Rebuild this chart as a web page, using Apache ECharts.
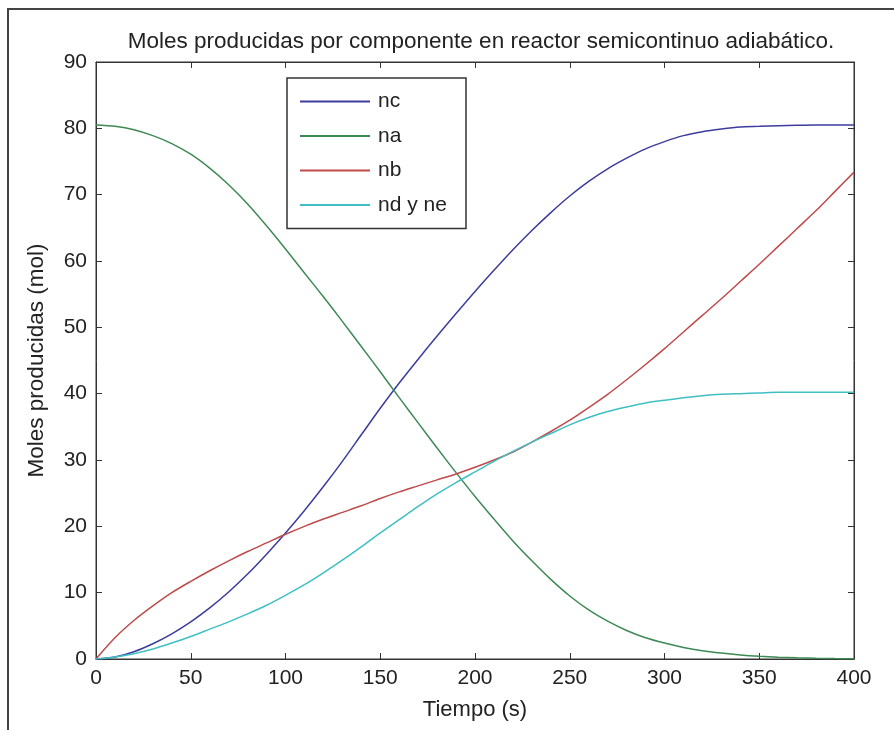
<!DOCTYPE html>
<html>
<head>
<meta charset="utf-8">
<title>Moles producidas por componente</title>
<script src="https://cdn.jsdelivr.net/npm/echarts@6/dist/echarts.min.js"></script>
<style>
  html, body { margin: 0; padding: 0; background: #ffffff; }
  #chart { width: 894px; height: 730px; }
</style>
</head>
<body>
<div id="chart"></div>
<script>
// Tiempo (s), muestreado cada 10 s
const tiempo = [0, 10, 20, 30, 40, 50, 60, 70, 80, 90,
                100, 110, 120, 130, 140, 150, 160, 170, 180, 190,
                200, 210, 220, 230, 240, 250, 260, 270, 280, 290,
                300, 310, 320, 330, 340, 350, 360, 370, 380, 390, 400];

// Moles de cada componente (mol)
const nc = [0, 0.3, 1.1, 2.3, 3.8, 5.6, 7.7, 10.1, 12.8, 15.8,
            19, 22.4, 26, 29.8, 33.8, 37.8, 41.6, 45.2, 48.7, 52.1,
            55.4, 58.6, 61.7, 64.6, 67.3, 69.8, 72, 73.9, 75.5, 76.9,
            78, 78.9, 79.5, 79.9, 80.2, 80.3, 80.4, 80.45, 80.5, 80.5, 80.5];

const na = [80.5, 80.3, 79.8, 78.9, 77.7, 76.1, 74, 71.5, 68.6, 65.3,
            61.8, 58.2, 54.6, 50.9, 47.1, 43.3, 39.4, 35.6, 31.8, 28.1,
            24.5, 21.1, 17.8, 14.8, 12, 9.5, 7.4, 5.7, 4.3, 3.2,
            2.4, 1.75, 1.25, 0.9, 0.62, 0.42, 0.28, 0.18, 0.11, 0.07, 0.04];

const nb = [0, 3.2, 5.8, 8, 10, 11.7, 13.3, 14.8, 16.2, 17.5,
            18.8, 20, 21.1, 22.1, 23.1, 24.2, 25.2, 26.1, 27, 27.9,
            28.9, 30, 31.2, 32.7, 34.3, 36, 37.9, 39.9, 42.1, 44.4,
            46.8, 49.3, 51.8, 54.3, 56.9, 59.5, 62.2, 64.9, 67.6, 70.5, 73.4];

const ndne = [0, 0.3, 0.8, 1.5, 2.4, 3.4, 4.5, 5.6, 6.8, 8.1,
              9.6, 11.2, 13, 14.9, 16.9, 19, 21, 23, 24.9, 26.6,
              28.2, 29.8, 31.3, 32.7, 34, 35.3, 36.4, 37.3, 38, 38.6,
              39, 39.4, 39.7, 39.9, 40, 40.1, 40.2, 40.2, 40.2, 40.2, 40.2];

const nombres = ['nc', 'na', 'nb', 'nd y ne'];
const colores = ['#3c3c9e', '#3d8a55', '#bf4a4a', '#3fbfc4'];

const FONT = '"Liberation Sans", Arial, sans-serif';
const AXIS = '#333333';

function pares(ys) { return tiempo.map((t, i) => [t, ys[i]]); }

const chart = echarts.init(document.getElementById('chart'), null, { renderer: 'canvas' });

const ejeX = {
  type: 'value', min: 0, max: 400, interval: 50,
  axisLine: { show: true, onZero: false, lineStyle: { color: AXIS, width: 1 } },
  axisTick: { show: true, inside: true, length: 6, lineStyle: { color: AXIS } },
  splitLine: { show: false }
};
const ejeY = {
  type: 'value', min: 0, max: 90, interval: 10,
  axisLine: { show: true, onZero: false, lineStyle: { color: AXIS, width: 1 } },
  axisTick: { show: true, inside: true, length: 6, lineStyle: { color: AXIS } },
  splitLine: { show: false }
};

chart.setOption({
  animation: false,
  backgroundColor: '#ffffff',
  textStyle: { fontFamily: FONT },
  title: {
    text: 'Moles producidas por componente en reactor semicontinuo adiabático.',
    left: 476, top: 25, textAlign: 'center',
    textStyle: { fontFamily: FONT, fontSize: 22.5, fontWeight: 'normal', color: '#222' }
  },
  graphic: [{
    type: 'rect', silent: true, z: -1,
    shape: { x: 8, y: 9, width: 1000, height: 1000 },
    style: { fill: 'none', stroke: '#444', lineWidth: 2 }
  }],
  grid: {
    left: 96, right: 40, top: 62, bottom: 71,
    show: true, borderColor: AXIS, borderWidth: 1, backgroundColor: '#fff'
  },
  legend: {
    data: nombres,
    orient: 'vertical',
    left: 287, top: 78,
    padding: [13, 8, 13, 13],
    itemGap: 13.5,
    itemWidth: 70, itemHeight: 2,
    icon: 'rect',
    backgroundColor: '#fff',
    borderColor: '#333', borderWidth: 1.5,
    textStyle: { fontFamily: FONT, fontSize: 21, color: '#222', lineHeight: 18, width: 80, padding: [0, 0, 0, 3] }
  },
  xAxis: [
    Object.assign({}, ejeX, {
      position: 'bottom',
      name: 'Tiempo (s)', nameLocation: 'middle', nameGap: 40,
      nameTextStyle: { fontFamily: FONT, fontSize: 22, color: '#222' },
      axisLabel: { show: true, margin: 9, fontFamily: FONT, fontSize: 21, color: '#222' }
    }),
    Object.assign({}, ejeX, { position: 'top', axisLabel: { show: false } })
  ],
  yAxis: [
    Object.assign({}, ejeY, {
      position: 'left',
      name: 'Moles producidas (mol)', nameLocation: 'middle', nameGap: 48,
      nameTextStyle: { fontFamily: FONT, fontSize: 22.5, color: '#222' },
      axisLabel: { show: true, margin: 9, fontFamily: FONT, fontSize: 21, color: '#222' }
    }),
    Object.assign({}, ejeY, { position: 'right', axisLabel: { show: false } })
  ],
  series: [nc, na, nb, ndne].map((ys, i) => ({
    name: nombres[i],
    type: 'line',
    xAxisIndex: 0, yAxisIndex: 0,
    data: pares(ys),
    showSymbol: false, symbol: 'none',
    smooth: 0.3,
    lineStyle: { color: colores[i], width: 1.5 },
    itemStyle: { color: colores[i] },
    z: 2 + i
  }))
});
</script>
</body>
</html>
